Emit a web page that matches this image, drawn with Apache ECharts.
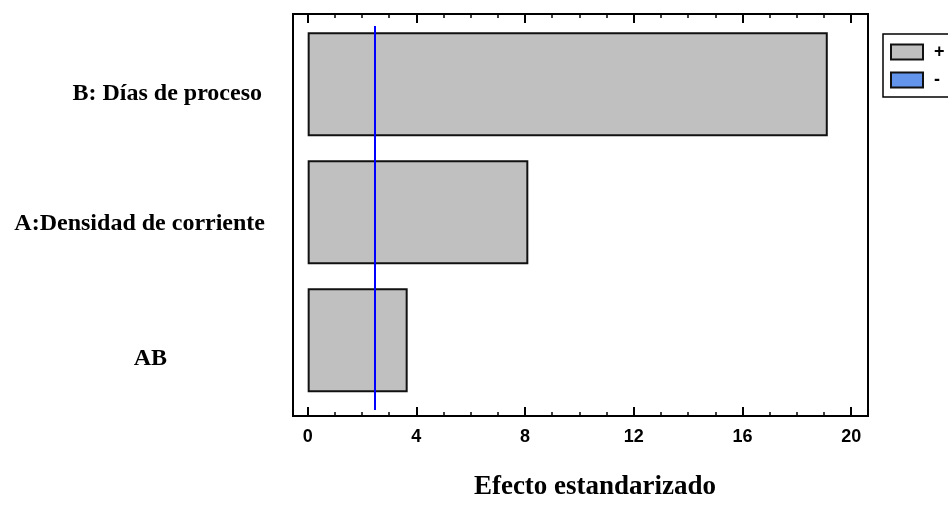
<!DOCTYPE html>
<html>
<head>
<meta charset="utf-8">
<script src="https://cdn.jsdelivr.net/npm/echarts@6/dist/echarts.min.js"></script>
<style>
  html, body { margin: 0; padding: 0; background: #fff; }
  #chart { width: 948px; height: 506px; }
</style>
</head>
<body>
<div id="chart"></div>
<script>
// Pareto chart of standardized effects
const factors = ['B: Días de proceso', 'A:Densidad de corriente', 'AB'];
const effects = [19.14, 8.12, 3.68];
const criticalValue = 2.477;
const majorTicks = [0, 4, 8, 12, 16, 20];
const minorTicks = [1, 2, 3, 5, 6, 7, 9, 10, 11, 13, 14, 15, 17, 18, 19];
const legendNames = ['+', '-'];
const axisTitle = 'Efecto estandarizado';

const X_MIN = -0.54, X_MAX = 20.62;
const serif = '"Liberation Serif", "Times New Roman", serif';
const sans = '"Liberation Sans", Arial, sans-serif';

const chart = echarts.init(document.getElementById('chart'), null, { renderer: 'canvas' });

function tickAxis(position, values, len, width, withLabels) {
  return {
    type: 'value', gridIndex: 0, position: position,
    min: X_MIN, max: X_MAX,
    axisLine: { show: withLabels, lineStyle: { color: '#000', width: 2 } },
    axisTick: { show: true, inside: true, length: len, customValues: values,
                lineStyle: { color: '#000', width: width } },
    axisLabel: withLabels ? {
      show: true, customValues: majorTicks, margin: 12,
      fontFamily: sans, fontWeight: 'bold', fontSize: 18, color: '#000'
    } : { show: false },
    splitLine: { show: false }
  };
}

const bottomMajor = tickAxis('bottom', majorTicks, 9, 2, true);
bottomMajor.name = axisTitle;
bottomMajor.nameLocation = 'middle';
bottomMajor.nameGap = 58;
bottomMajor.nameTextStyle = {
  fontFamily: serif, fontWeight: 'bold', fontSize: 27, color: '#000',
  padding: [0, 0, 0, 29]
};

const labelShift = [
  { padding: [8, 3, 0, 0] },
  { padding: [11, 0, 0, 0] },
  { padding: [26, 98, 0, 0] }
];
const rich = {};
labelShift.forEach((s, i) => {
  rich['r' + i] = Object.assign({
    fontFamily: serif, fontWeight: 'bold', fontSize: 24, color: '#000'
  }, s);
});

chart.setOption({
  animation: false,
  backgroundColor: '#fff',
  grid: [
    { left: 293, right: 80, top: 14, height: 408, show: true,
      borderColor: '#000', borderWidth: 2, backgroundColor: 'transparent' },
    { left: 293, right: 80, top: 26, height: 384 }
  ],
  legend: {
    orient: 'vertical', left: 883, top: 34,
    itemWidth: 32, itemHeight: 15, itemGap: 10,
    padding: [9, 40, 8, 7],
    borderColor: '#000', borderWidth: 1.5, backgroundColor: '#fff',
    icon: 'rect',
    data: legendNames,
    textStyle: { fontFamily: sans, fontWeight: 'bold', fontSize: 18, color: '#000',
                 padding: [0, 0, 0, 6] }
  },
  xAxis: [
    bottomMajor,
    tickAxis('bottom', minorTicks, 4, 1.5, false),
    tickAxis('top', majorTicks, 9, 2, false),
    tickAxis('top', minorTicks, 4, 1.5, false),
    { type: 'value', gridIndex: 1, min: X_MIN, max: X_MAX, show: false }
  ],
  yAxis: [
    { type: 'value', gridIndex: 0, show: false, splitLine: { show: false } },
    {
      type: 'category', gridIndex: 1, data: factors, inverse: true,
      axisLine: { show: false }, axisTick: { show: false },
      axisLabel: {
        margin: 28,
        formatter: (v, i) => '{r' + i + '|' + v + '}',
        rich: rich
      }
    }
  ],
  series: [
    {
      name: legendNames[0], type: 'bar', xAxisIndex: 4, yAxisIndex: 1,
      data: effects, barWidth: 104,
      itemStyle: { color: '#c0c0c0', borderColor: '#111', borderWidth: 2 },
      markLine: {
        silent: true, symbol: 'none',
        label: { show: false },
        lineStyle: { color: '#0000ff', width: 2, type: 'solid' },
        data: [{ xAxis: criticalValue }]
      }
    },
    {
      name: legendNames[1], type: 'bar', xAxisIndex: 4, yAxisIndex: 1,
      data: [],
      itemStyle: { color: '#6495ed', borderColor: '#111', borderWidth: 2 }
    }
  ]
});
</script>
</body>
</html>
